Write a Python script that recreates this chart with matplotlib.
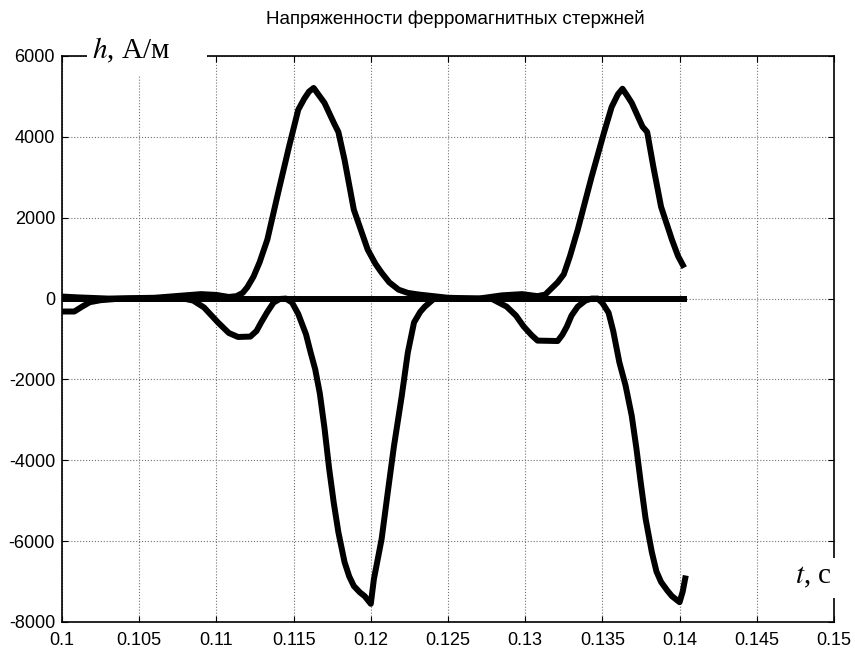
import matplotlib
matplotlib.use("Agg")
import matplotlib.pyplot as plt
from matplotlib.patches import Rectangle

plt.rcParams['font.family'] = ['Liberation Sans', 'DejaVu Sans']
plt.rcParams['mathtext.fontset'] = 'stix'
plt.rcParams['axes.unicode_minus'] = False

# positive field strength (two peaks)
t_a = [0.1000, 0.1010, 0.1030, 0.1060, 0.1080, 0.1090, 0.1100, 0.1108, 0.1113, 0.1117,
       0.1120, 0.1124, 0.1128, 0.1133, 0.1140, 0.1147, 0.1153, 0.1157, 0.1160, 0.1163,
       0.1166, 0.1170, 0.1176, 0.1179, 0.1183, 0.1189, 0.1194, 0.1198, 0.1203, 0.1207,
       0.1212, 0.1218, 0.1224, 0.1231, 0.1250, 0.1270, 0.1285, 0.1298, 0.1308, 0.1313,
       0.1317, 0.1321, 0.1325, 0.1329, 0.1334, 0.1343, 0.1351, 0.1356, 0.1360, 0.1363,
       0.1366, 0.1369, 0.1376, 0.1379, 0.1383, 0.1388, 0.1395, 0.1399, 0.1403]
h_a = [50, 30, 0, 20, 80, 110, 90, 40, 60, 140,
       280, 540, 900, 1460, 2620, 3750, 4670, 4950, 5120, 5210,
       5050, 4840, 4350, 4120, 3430, 2200, 1650, 1210, 860, 640,
       400, 220, 140, 100, 20, 0, 80, 110, 60, 100,
       250, 400, 600, 1050, 1700, 3010, 4100, 4740, 5050, 5190,
       5020, 4840, 4250, 4120, 3260, 2270, 1460, 1050, 765]

# negative field strength (small dip + deep dip)
t_b = [0.1000, 0.1008, 0.1013, 0.1018, 0.1025, 0.1035, 0.1045, 0.1060, 0.1075, 0.1085,
       0.1092, 0.1101, 0.1108, 0.1114, 0.1122, 0.1126, 0.1129, 0.1133, 0.1137, 0.1141,
       0.1145, 0.1149, 0.1153, 0.1158, 0.1161, 0.1164, 0.1167, 0.1170, 0.1173, 0.1176,
       0.1179, 0.1183, 0.1186, 0.1189, 0.1193, 0.1196, 0.1200, 0.1202, 0.1207, 0.1211,
       0.1215, 0.1220, 0.1224, 0.1228, 0.1232, 0.1235, 0.1241, 0.1260, 0.1278, 0.1288,
       0.1294, 0.1299, 0.1304, 0.1308, 0.1321, 0.1324, 0.1327, 0.1330, 0.1334, 0.1339,
       0.1343, 0.1347, 0.1350, 0.1354, 0.1357, 0.1361, 0.1365, 0.1369, 0.1372, 0.1375,
       0.1378, 0.1382, 0.1385, 0.1388, 0.1392, 0.1395, 0.1400, 0.1402, 0.1404]
h_b = [-320, -320, -200, -90, -40, -10, 0, 0, 30, -50,
       -220, -590, -850, -950, -940, -800, -590, -330, -100, -10,
       0, -100, -380, -880, -1330, -1750, -2350, -3200, -4200, -5050,
       -5780, -6520, -6870, -7110, -7270, -7360, -7550, -6940, -5950, -4790,
       -3650, -2420, -1330, -590, -330, -200, 0, 0, 0, -200,
       -420, -690, -900, -1040, -1050, -900, -690, -420, -200, -50,
       0, 0, -110, -350, -800, -1580, -2150, -2900, -3700, -4600,
       -5450, -6270, -6750, -7010, -7220, -7360, -7510, -7250, -6850]

# third rod, stays near zero
t_c = [0.1000, 0.1100, 0.1200, 0.1300, 0.14045]
h_c = [0, 0, 0, 0, 0]

xticks = [0.1, 0.105, 0.11, 0.115, 0.12, 0.125, 0.13, 0.135, 0.14, 0.145, 0.15]
xticklabels = ['0.1', '0.105', '0.11', '0.115', '0.12', '0.125', '0.13', '0.135', '0.14', '0.145', '0.15']
yticks = [-8000, -6000, -4000, -2000, 0, 2000, 4000, 6000]

fig = plt.figure(figsize=(8.55, 6.48), dpi=100)
ax = fig.add_axes([62/855, 26/648, 772/855, 566/648])

for t, h in [(t_a, h_a), (t_b, h_b), (t_c, h_c)]:
    ax.plot(t, h, color='black', lw=4.3, solid_joinstyle='round', solid_capstyle='butt')

ax.set_xlim(0.1, 0.15)
ax.set_ylim(-8000, 6000)
ax.set_xticks(xticks)
ax.set_xticklabels(xticklabels)
ax.set_yticks(yticks)
ax.tick_params(direction='in', top=True, right=True, length=4, width=0.8,
               labelsize=13, pad=5)
ax.tick_params(axis='x', pad=7)
ax.grid(True, color='0.45', linestyle=':', linewidth=0.8)
for s in ax.spines.values():
    s.set_linewidth(1.2)

fig.text(455/855, 1 - 19/648, 'Напряженности ферромагнитных стержней',
         fontsize=13.5, ha='center', va='center')

# white boxes behind the axis labels, as in the original
ax.add_patch(Rectangle((0.0324, 0.966), 0.155, 0.062, transform=ax.transAxes,
                       facecolor='white', edgecolor='none', zorder=3, clip_on=False))
ax.add_patch(Rectangle((0.943, 0.042), 0.066, 0.071, transform=ax.transAxes,
                       facecolor='white', edgecolor='none', zorder=3, clip_on=False))

ax.text(0.039, 1.010, '$h$, А/м', transform=ax.transAxes, fontsize=21,
        family=['Liberation Serif', 'DejaVu Serif'], ha='left', va='center', zorder=4)
ax.text(0.950, 0.079, '$t$, с', transform=ax.transAxes, fontsize=21,
        family=['Liberation Serif', 'DejaVu Serif'], ha='left', va='center', zorder=4)

fig.savefig('out.png', dpi=100)
